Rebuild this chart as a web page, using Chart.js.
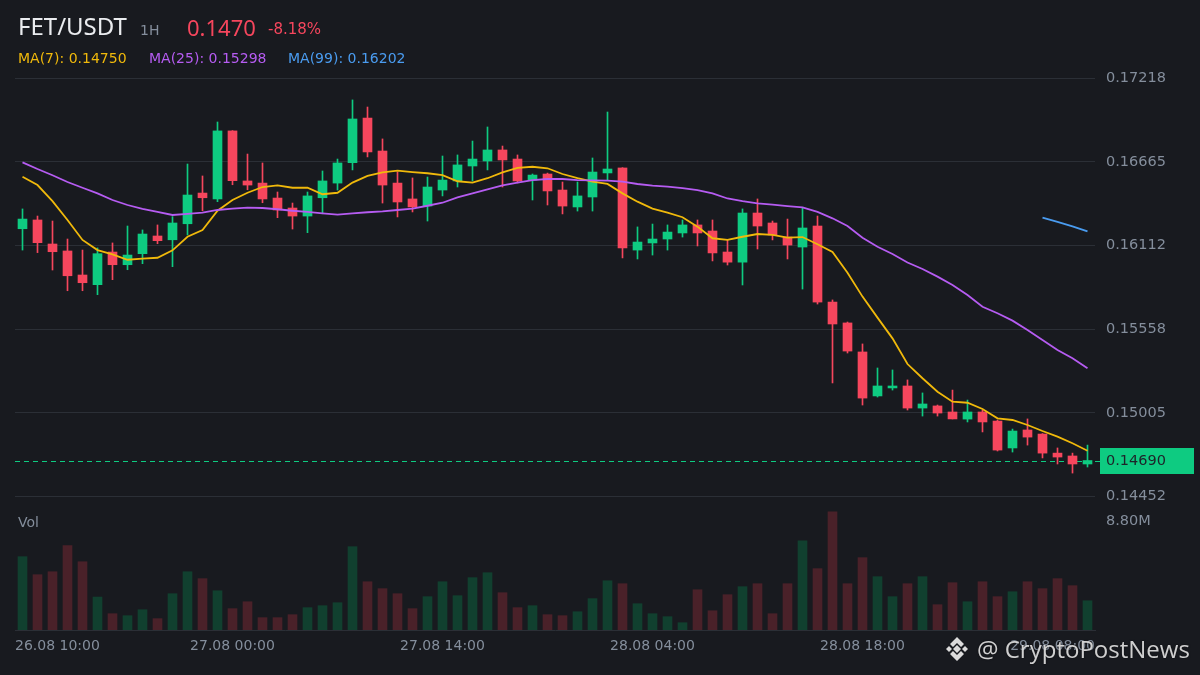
<!DOCTYPE html>
<html>
<head>
<meta charset="utf-8">
<script src="https://cdn.jsdelivr.net/npm/chart.js@4.4.1/dist/chart.umd.min.js"></script>
<style>
  html, body { margin: 0; padding: 0; background: #181a1f; }
  body { width: 1200px; height: 675px; overflow: hidden; position: relative; font-family: 'DejaVu Sans', sans-serif; }
  #wrap { position: absolute; left: 0; top: 0; width: 1200px; height: 675px; }
  .t { position: absolute; white-space: nowrap; line-height: 1; }
  .pair { font-family: 'Noto Sans'; font-size: 24px; color: #eaecef; left: 18px; top: 13.7px; }
  .tf { font-size: 14px; color: #848e9c; left: 140px; top: 23.2px; }
  .last { font-family: 'Noto Sans'; font-size: 22px; color: #f6465d; left: 187px; top: 15.5px; }
  .chg { font-size: 15px; color: #f6465d; left: 268px; top: 22.3px; }
  .ma { font-size: 14px; top: 50.7px; }
  .vol { font-size: 14px; color: #848e9c; left: 18px; top: 515px; }
  .wm { font-family: 'Open Sans'; font-size: 24px; color: rgba(228,228,228,0.9); left: 977px; top: 637px; text-shadow: 0 0 2px rgba(0,0,0,0.6); }
  .logo { position: absolute; left: 943px; top: 635px; }
</style>
</head>
<body>
<div id="wrap"><canvas id="chart" width="1200" height="675"></canvas></div>

<div class="t pair">FET/USDT</div>
<div class="t tf">1H</div>
<div class="t last">0.1470</div>
<div class="t chg">-8.18%</div>
<div class="t ma" style="left:18px;color:#f0b90b">MA(7): 0.14750</div>
<div class="t ma" style="left:149px;color:#b65cf2">MA(25): 0.15298</div>
<div class="t ma" style="left:288px;color:#4a9cf0">MA(99): 0.16202</div>
<div class="t vol">Vol</div>
<svg class="logo" width="28" height="28" viewBox="0 0 28 28">
  <g fill="#dcdcdc">
    <polygon points="14,10 18,14 14,18 10,14"/>
    <polygon points="3,14 6,11 9,14 6,17"/>
    <polygon points="19,14 22,11 25,14 22,17"/>
    <polygon points="14,2 21,9 18,12 14,8 10,12 7,9"/>
    <polygon points="14,26 21,19 18,16 14,20 10,16 7,19"/>
  </g>
</svg>
<div class="t wm">@ CryptoPostNews</div>

<script>
// --- DONNÉES ---
const times = [
  '26.08 10:00','26.08 11:00','26.08 12:00','26.08 13:00','26.08 14:00','26.08 15:00','26.08 16:00',
  '26.08 17:00','26.08 18:00','26.08 19:00','26.08 20:00','26.08 21:00','26.08 22:00','26.08 23:00',
  '27.08 00:00','27.08 01:00','27.08 02:00','27.08 03:00','27.08 04:00','27.08 05:00','27.08 06:00',
  '27.08 07:00','27.08 08:00','27.08 09:00','27.08 10:00','27.08 11:00','27.08 12:00','27.08 13:00',
  '27.08 14:00','27.08 15:00','27.08 16:00','27.08 17:00','27.08 18:00','27.08 19:00','27.08 20:00',
  '27.08 21:00','27.08 22:00','27.08 23:00','28.08 00:00','28.08 01:00','28.08 02:00','28.08 03:00',
  '28.08 04:00','28.08 05:00','28.08 06:00','28.08 07:00','28.08 08:00','28.08 09:00','28.08 10:00',
  '28.08 11:00','28.08 12:00','28.08 13:00','28.08 14:00','28.08 15:00','28.08 16:00','28.08 17:00',
  '28.08 18:00','28.08 19:00','28.08 20:00','28.08 21:00','28.08 22:00','28.08 23:00','29.08 00:00',
  '29.08 01:00','29.08 02:00','29.08 03:00','29.08 04:00','29.08 05:00','29.08 06:00','29.08 07:00',
  '29.08 08:00','29.08 09:00'
];
const timeTickIdx = [0, 14, 28, 42, 56, 70];

const opens = [
  0.16223,0.16281,0.16122,0.16076,0.15917,0.15853,0.16069,0.15985,0.16058,0.16175,
  0.16150,0.16256,0.16459,0.16420,0.16870,0.16539,0.16525,0.16426,0.16360,0.16307,
  0.16428,0.16525,0.16660,0.16955,0.16737,0.16525,0.16420,0.16373,0.16479,0.16539,
  0.16638,0.16671,0.16744,0.16684,0.16545,0.16585,0.16479,0.16367,0.16433,0.16592,
  0.16625,0.16082,0.16129,0.16155,0.16195,0.16248,0.16208,0.16069,0.16002,0.16327,
  0.16261,0.16168,0.16102,0.16241,0.15738,0.15600,0.15408,0.15117,0.15170,0.15183,
  0.15037,0.15051,0.15011,0.14964,0.15011,0.14951,0.14773,0.14892,0.14865,0.14739,
  0.14720,0.14667
];
const highs = [
  0.16354,0.16307,0.16274,0.16155,0.16082,0.16096,0.16129,0.16241,0.16215,0.16248,
  0.16303,0.16651,0.16572,0.16929,0.16872,0.16717,0.16658,0.16466,0.16393,0.16466,
  0.16605,0.16684,0.17075,0.17028,0.16817,0.16598,0.16559,0.16565,0.16704,0.16711,
  0.16803,0.16896,0.16770,0.16711,0.16585,0.16591,0.16532,0.16532,0.16691,0.16995,
  0.16627,0.16235,0.16254,0.16248,0.16281,0.16281,0.16281,0.16148,0.16354,0.16420,
  0.16274,0.16287,0.16360,0.16307,0.15752,0.15606,0.15461,0.15302,0.15289,0.15223,
  0.15137,0.15057,0.15156,0.15090,0.15024,0.14958,0.14898,0.14965,0.14868,0.14773,
  0.14739,0.14792
];
const lows = [
  0.16082,0.16065,0.15950,0.15813,0.15813,0.15787,0.15886,0.15952,0.15992,0.16124,
  0.15972,0.16182,0.16342,0.16402,0.16514,0.16481,0.16395,0.16296,0.16221,0.16197,
  0.16322,0.16479,0.16612,0.16698,0.16393,0.16301,0.16334,0.16274,0.16440,0.16499,
  0.16539,0.16612,0.16499,0.16526,0.16413,0.16380,0.16321,0.16340,0.16340,0.16545,
  0.16030,0.16023,0.16049,0.16082,0.16168,0.16109,0.16010,0.15983,0.15851,0.16089,
  0.16149,0.16023,0.15824,0.15725,0.15203,0.15401,0.15057,0.15110,0.15156,0.15024,
  0.14984,0.14984,0.14965,0.14945,0.14879,0.14753,0.14746,0.14792,0.14707,0.14667,
  0.14607,0.14647
];
const closes = [
  0.16287,0.16131,0.16071,0.15912,0.15866,0.16058,0.15985,0.16049,0.16188,0.16144,
  0.16261,0.16446,0.16428,0.16870,0.16541,0.16512,0.16420,0.16347,0.16307,0.16440,
  0.16539,0.16658,0.16949,0.16731,0.16512,0.16400,0.16367,0.16499,0.16545,0.16645,
  0.16684,0.16744,0.16678,0.16539,0.16578,0.16473,0.16373,0.16440,0.16598,0.16618,
  0.16096,0.16135,0.16155,0.16201,0.16248,0.16195,0.16063,0.16002,0.16327,0.16241,
  0.16182,0.16115,0.16228,0.15738,0.15593,0.15414,0.15103,0.15183,0.15183,0.15037,
  0.15064,0.15004,0.14965,0.15011,0.14945,0.14759,0.14885,0.14845,0.14739,0.14713,
  0.14667,0.14690
];
// volume en millions
const volumes = [
  5.94,4.48,4.72,6.83,5.53,2.67,1.32,1.16,1.64,0.92,
  2.94,4.72,4.16,3.18,1.73,2.29,1.00,1.00,1.24,1.81,
  1.97,2.21,6.75,3.91,3.35,2.94,1.73,2.70,3.91,2.78,
  4.24,4.64,3.02,1.81,1.97,1.24,1.16,1.48,2.54,3.99,
  3.75,2.13,1.32,1.08,0.59,3.26,1.56,2.86,3.51,3.75,
  1.32,3.75,7.23,4.97,9.58,3.75,5.86,4.32,2.70,3.75,
  4.32,2.05,3.83,2.29,3.91,2.70,3.10,3.91,3.35,4.16,
  3.59,2.37
];
const ma7 = [
  0.16567,0.16512,0.16406,0.16281,0.16149,0.16082,0.16054,0.16018,0.16025,0.16031,
  0.16080,0.16170,0.16215,0.16342,0.16413,0.16461,0.16499,0.16510,0.16494,0.16494,
  0.16451,0.16461,0.16528,0.16572,0.16596,0.16607,0.16598,0.16590,0.16577,0.16537,
  0.16528,0.16557,0.16596,0.16625,0.16633,0.16623,0.16585,0.16557,0.16534,0.16519,
  0.16457,0.16402,0.16356,0.16329,0.16299,0.16237,0.16160,0.16149,0.16170,0.16188,
  0.16182,0.16164,0.16168,0.16120,0.16069,0.15932,0.15774,0.15635,0.15498,0.15328,
  0.15234,0.15145,0.15079,0.15072,0.15031,0.14969,0.14958,0.14925,0.14885,0.14848,
  0.14804,0.14755
];
const ma25 = [
  0.16662,0.16618,0.16577,0.16532,0.16494,0.16457,0.16413,0.16380,0.16354,0.16334,
  0.16314,0.16321,0.16329,0.16347,0.16356,0.16362,0.16360,0.16352,0.16342,0.16334,
  0.16325,0.16316,0.16325,0.16332,0.16338,0.16347,0.16356,0.16375,0.16395,0.16431,
  0.16457,0.16484,0.16510,0.16528,0.16545,0.16552,0.16552,0.16545,0.16543,0.16541,
  0.16534,0.16519,0.16508,0.16501,0.16492,0.16479,0.16457,0.16423,0.16405,0.16391,
  0.16382,0.16373,0.16365,0.16334,0.16292,0.16241,0.16164,0.16104,0.16056,0.16000,
  0.15957,0.15906,0.15851,0.15785,0.15707,0.15664,0.15615,0.15553,0.15487,0.15421,
  0.15366,0.15300
];
// MA(99) : seulement les 4 dernières bougies sont visibles
const ma99Start = 68;
const ma99Tail = [0.16296, 0.16268, 0.16238, 0.16205];

const priceTicks = [0.14452, 0.15005, 0.15558, 0.16112, 0.16665, 0.17218];
const lastPrice = 0.14690;
const volTickLabel = '8.80M';
const volTickValue = 8.8;

// --- COULEURS ---
const UP = '#0ecb81', DOWN = '#f6465d';
const UP_VOL = '#11402f', DOWN_VOL = '#4a2129';
const GRID = '#2b2f36', TXT = '#848e9c';

Chart.defaults.font.family = "'DejaVu Sans', sans-serif";
Chart.defaults.color = TXT;

const isUp = closes.map((c, i) => c >= opens[i]);
const candleColors = isUp.map(u => u ? UP : DOWN);
const volColors = isUp.map(u => u ? UP_VOL : DOWN_VOL);
const ma99 = times.map((t, i) => i >= ma99Start ? ma99Tail[i - ma99Start] : null);

// --- PLUGIN : ligne de prix, étiquettes ---
const overlay = {
  id: 'overlay',
  beforeDatasetsDraw(chart) {
    const { ctx, chartArea, scales } = chart;
    const y = Math.round(scales.y.getPixelForValue(lastPrice)) + 0.5;
    ctx.save();
    ctx.strokeStyle = UP;
    ctx.lineWidth = 1;
    ctx.setLineDash([5, 4]);
    ctx.beginPath();
    ctx.moveTo(chartArea.left, y);
    ctx.lineTo(chartArea.right + 5, y);
    ctx.stroke();
    ctx.restore();
  },
  afterDraw(chart) {
    const { ctx, chartArea, scales } = chart;
    ctx.save();
    ctx.font = "14px 'DejaVu Sans'";
    ctx.textBaseline = 'middle';

    // étiquettes de temps (collées aux bords)
    ctx.fillStyle = TXT;
    timeTickIdx.forEach(i => {
      const label = times[i];
      const w = ctx.measureText(label).width;
      let left = scales.x.getPixelForValue(i) - w / 2;
      left = Math.max(chartArea.left, Math.min(left, chartArea.right - w));
      ctx.fillText(label, left, chartArea.bottom + 16);
    });

    // échelle volume
    ctx.font = "14.5px 'DejaVu Sans'";
    ctx.fillText(volTickLabel, chartArea.right + 11, scales.yv.getPixelForValue(volTickValue));

    // prix courant
    const py = Math.round(scales.y.getPixelForValue(lastPrice));
    ctx.fillStyle = UP;
    ctx.fillRect(chartArea.right + 5, py - 13, 94, 26);
    ctx.fillStyle = '#1e2329';
    ctx.fillText(lastPrice.toFixed(5), chartArea.right + 11, py);
    ctx.restore();
  }
};

// --- GRAPHIQUE ---
new Chart(document.getElementById('chart'), {
  type: 'bar',
  data: {
    labels: times,
    datasets: [
      { type: 'line', label: 'MA(99)', data: ma99, borderColor: '#4a9cf0', borderWidth: 1.8, pointRadius: 0, yAxisID: 'y', spanGaps: false },
      { type: 'line', label: 'MA(25)', data: ma25, borderColor: '#b65cf2', borderWidth: 1.8, pointRadius: 0, yAxisID: 'y' },
      { type: 'line', label: 'MA(7)', data: ma7, borderColor: '#f0b90b', borderWidth: 1.8, pointRadius: 0, yAxisID: 'y' },
      { label: 'body', data: opens.map((o, i) => [o, closes[i]]), backgroundColor: candleColors, barThickness: 9, minBarLength: 1, grouped: false, yAxisID: 'y' },
      { label: 'wick', data: lows.map((l, i) => [l, highs[i]]), backgroundColor: candleColors, barThickness: 1, grouped: false, yAxisID: 'y' },
      { label: 'vol', data: volumes, backgroundColor: volColors, barThickness: 9, grouped: false, yAxisID: 'yv' }
    ]
  },
  options: {
    responsive: false,
    animation: false,
    devicePixelRatio: 1,
    layout: { padding: { left: 15, right: 0, top: 70, bottom: 0 } },
    plugins: { legend: { display: false }, tooltip: { enabled: false } },
    scales: {
      x: {
        offset: true,
        grid: { display: false },
        border: { display: true, color: GRID },
        ticks: { display: false },
        afterFit: (axis) => { axis.height = 45; }
      },
      y: {
        position: 'right',
        min: 0.13569,
        max: 0.172729,
        grid: { color: GRID, drawTicks: false },
        border: { display: false },
        ticks: { color: TXT, font: { size: 14.5 }, padding: 11, autoSkip: false, callback: v => v.toFixed(5) },
        afterBuildTicks: (axis) => { axis.ticks = priceTicks.map(v => ({ value: v })); },
        afterFit: (axis) => { axis.width = 105; }
      },
      yv: {
        display: false,
        min: 0,
        max: 45.36
      }
    }
  },
  plugins: [overlay]
});
</script>
</body>
</html>
